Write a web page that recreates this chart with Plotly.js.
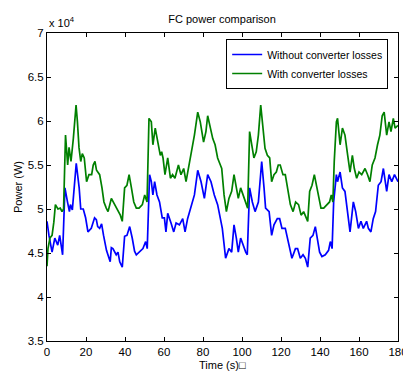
<!DOCTYPE html>
<html><head><meta charset="utf-8">
<script src="https://cdn.plot.ly/plotly-3.0.1.min.js"></script>
<style>html,body{margin:0;padding:0;background:#fff}#chart{width:403px;height:371px}</style>
</head><body><div id="chart"></div>
<script>
// Time (s)
const tBlue = [0,1,2.6,4,5.5,6.5,8,9.2,10.5,11.5,12,13,15,16.5,17.3,18.6,19.8,21,22.7,24.4,25.3,26,27,28,29,30.5,32.4,33,33.8,35.5,36.4,37.3,38.6,39.8,41,42.4,43.7,44.9,45.8,47.5,49.2,50.6,51.4,52.6,53.5,54.3,55.2,56.4,57.7,59.1,60.2,61,61.9,63.6,65,66.2,67.9,69.6,70.8,72.1,73.8,75.6,77.3,79,80.7,82.4,84.1,85.8,87.5,88.9,89.9,91.6,93.3,94.7,95.9,97.1,98.1,99.3,100.5,101.9,102.7,103.9,105.3,106.7,108.4,110.1,111.3,112.1,113.9,115.2,116.4,118.1,119.3,120.5,122.2,124,125.6,127.4,128.5,129.9,131.3,132.5,133.7,135,136.4,137.6,138.5,139.8,141,142.7,144.4,145.3,146.2,147,148.4,149,150.3,151.5,152.8,153.7,155.4,157.1,158.3,159.7,161,162.2,163.9,164.8,166.1,167.3,168.5,169.9,171.3,172.5,174.2,175.4,176.8,178.2,180];
// Power without converter losses (x 10^4 W)
const pBlue = [4.86,4.7,4.51,4.67,4.59,4.7,4.48,5.24,5.08,4.97,5.05,4.99,5.52,5.24,5.0,5.0,4.9,4.74,4.78,4.9,4.88,4.8,4.78,4.83,4.7,4.53,4.4,4.56,4.55,4.48,4.51,4.4,4.34,4.69,4.7,4.8,4.67,4.52,4.48,4.52,4.55,4.63,4.55,5.39,5.31,5.16,5.31,5.16,5.08,4.9,4.9,4.74,4.95,4.84,4.74,4.84,4.82,4.89,4.74,4.89,5.01,5.16,5.44,5.31,5.12,5.39,5.31,5.16,5.05,4.9,4.78,4.44,4.55,4.51,4.82,4.67,4.51,4.67,4.59,4.51,4.48,5.24,5.08,4.97,5.08,5.54,5.24,5.01,4.97,4.7,4.82,4.89,4.89,4.78,4.78,4.59,4.44,4.55,4.55,4.44,4.48,4.44,4.34,4.67,4.7,4.8,4.67,4.51,4.46,4.48,4.53,4.63,4.55,5.08,5.39,5.31,5.42,5.24,5.2,5.05,4.74,5.08,4.97,4.78,4.86,4.78,4.86,4.78,4.74,4.89,4.97,5.27,5.31,5.46,5.2,5.39,5.31,5.39,5.31];
const tGreen = [0,0.5,1.5,2.6,3.5,4.3,5.6,6.8,7.7,8.5,9.5,10.6,11.3,12.3,13.5,14.9,15.6,16.4,17.3,18.1,19.1,20.3,21.5,22.9,23.7,24.6,25.4,26.2,27,28.2,29.2,30.4,31.3,33,34.7,36.4,37.6,38.6,39.8,41,42.1,43.3,44.5,45.8,47.2,48.9,50.1,51.3,52.3,53.5,54.3,55.5,56.9,58.1,58.8,59.5,60.5,61.9,63.3,64.4,65.6,67.4,68.7,70.1,71.3,72.5,74.2,75.6,77.3,78.6,80.3,81.5,82.4,83.8,85,86.2,87.5,88.9,89.6,90.8,92,93.3,94.7,95.9,97.1,98.1,99.3,100.5,101.9,102.9,103.9,104.9,106.1,107.3,108.4,109.6,110.8,111.8,113,114.2,115.2,116.4,117.6,118.6,119.6,121,122.2,123.4,124.8,126.2,127.5,129,130.3,131.6,133,133.7,134.7,135.9,137.1,138.2,139.3,140.5,141.9,143.6,144.9,145.8,146.6,147.3,148.4,149,150.3,151.5,152.8,154.2,155.4,156.6,157.6,158.8,160,161.4,163.1,164.4,165.6,166.8,168.2,169.5,170.7,171.9,172.9,174.2,175.4,176.4,177.6,178.5,180];
// Power with converter losses (x 10^4 W)
const pGreen = [4.35,4.55,4.67,4.7,4.85,5.05,5.0,5.01,4.97,5.0,5.84,5.5,5.7,5.54,5.8,6.18,5.99,5.7,5.54,5.63,5.58,5.31,5.39,5.39,5.5,5.54,5.44,5.42,5.39,5.24,5.08,5.01,4.97,5.12,5.05,4.97,4.93,4.86,5.24,5.27,5.39,5.24,5.08,5.01,5.01,5.05,5.16,5.08,6.03,5.99,5.73,5.92,5.76,5.61,5.65,5.58,5.39,5.58,5.35,5.39,5.35,5.5,5.39,5.46,5.31,5.46,5.65,5.84,6.1,5.99,5.76,5.88,6.06,5.92,5.8,5.73,5.58,5.5,5.46,5.16,4.97,5.12,5.2,5.39,5.24,5.12,5.24,5.16,5.08,5.01,5.88,5.76,5.58,5.65,5.84,6.18,5.95,5.69,5.61,5.58,5.31,5.39,5.42,5.5,5.5,5.39,5.39,5.24,5.05,4.97,5.08,5.05,4.93,4.97,4.89,4.86,5.2,5.27,5.39,5.27,5.12,5.01,5.01,5.05,5.08,5.16,5.08,5.54,5.99,6.03,5.73,5.92,5.84,5.61,5.42,5.61,5.46,5.35,5.42,5.39,5.46,5.39,5.31,5.5,5.58,5.73,5.84,6.06,6.1,5.84,5.99,5.88,6.03,5.92,5.95];
const seriesNames = ['Without converter losses','With converter losses'];
const xTicks = [0,20,40,60,80,100,120,140,160,180];
const yTicks = [3.5,4,4.5,5,5.5,6,6.5,7];
const yTickText = ['3.5','4','4.5','5','5.5','6','6.5','7'];

const FONT = 'Liberation Sans, Arial, sans-serif';
const traces = [
  {x:tBlue, y:pBlue, type:'scatter', mode:'lines', name:seriesNames[0], line:{color:'#0000ff', width:1.7}},
  {x:tGreen, y:pGreen, type:'scatter', mode:'lines', name:seriesNames[1], line:{color:'#008000', width:1.7}}
];
const axisCommon = {showline:true, linecolor:'#000', linewidth:1, mirror:'ticks', ticks:'inside', ticklen:4, tickcolor:'#000', showgrid:false, zeroline:false, ticklabeloverflow:'allow', tickfont:{family:FONT, size:11.5, color:'#000'}};
const layout = {
  width:403, height:371,
  margin:{l:47, r:5, t:33, b:30},
  paper_bgcolor:'#fff', plot_bgcolor:'#fff',
  font:{family:FONT, size:11, color:'#000'},
  title:{text:'FC power comparison', font:{family:FONT, size:11, color:'#000'}, x:0.551, xanchor:'center', yref:'container', y:1-19/371, yanchor:'middle'},
  xaxis:Object.assign({}, axisCommon, {range:[0,180], tickvals:xTicks, ticktext:xTicks.map(String)}),
  yaxis:Object.assign({}, axisCommon, {range:[3.5,7], tickvals:yTicks, ticktext:yTickText}),
  showlegend:true,
  legend:{x:0.972, y:0.9805, xanchor:'right', yanchor:'top', bgcolor:'#fff', bordercolor:'#000', borderwidth:1, font:{family:FONT, size:10.5, color:'#000'}, tracegroupgap:0, itemwidth:30},
  annotations:[
    {text:'x 10<sup>4</sup>', xref:'paper', yref:'paper', x:0, y:1, xanchor:'left', yanchor:'bottom', yshift:2, showarrow:false, font:{family:FONT, size:11, color:'#000'}},
    {text:'Power (W)', xref:'paper', yref:'paper', x:(18-47)/351, y:0.5, xanchor:'center', yanchor:'middle', textangle:-90, showarrow:false, font:{family:FONT, size:11, color:'#000'}},
    {text:'Time (s)\u25A1', xref:'paper', yref:'paper', x:0.5, y:-24/308, xanchor:'center', yanchor:'middle', showarrow:false, font:{family:FONT, size:11, color:'#000'}}
  ]
};
Plotly.newPlot('chart', traces, layout, {displayModeBar:false, staticPlot:true});
</script></body></html>
